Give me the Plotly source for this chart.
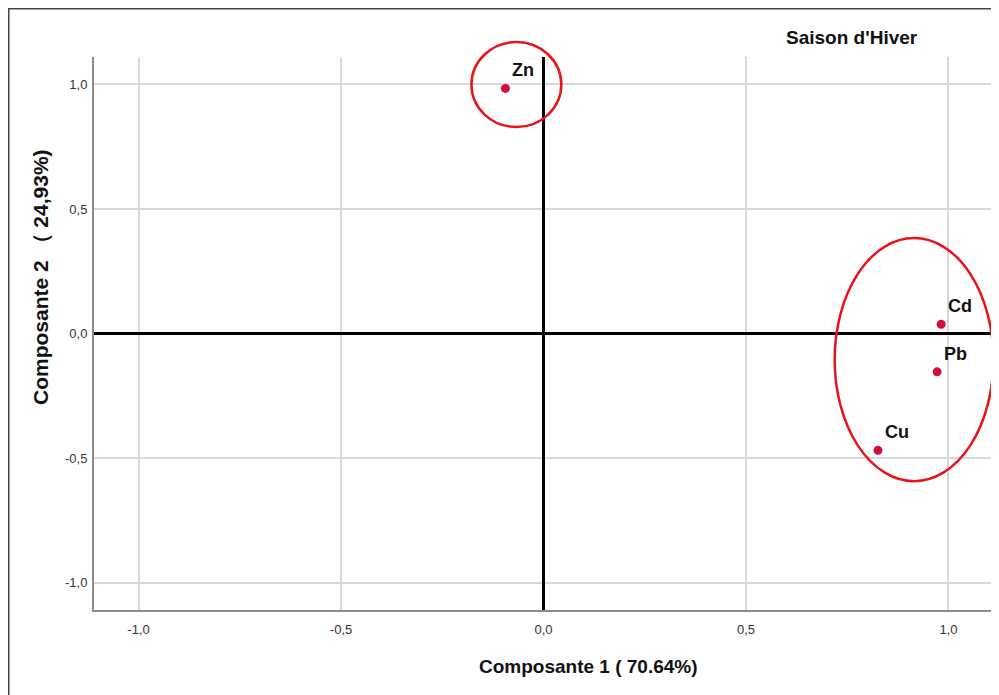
import plotly.graph_objects as go

# Data
labels = ["Zn", "Cd", "Pb", "Cu"]
comp1 = [-0.094, 0.982, 0.972, 0.826]
comp2 = [0.984, 0.037, -0.154, -0.469]
tick_vals = [-1.0, -0.5, 0.0, 0.5, 1.0]
tick_text = ["-1,0", "-0,5", "0,0", "0,5", "1,0"]
# Highlight ellipses (data units): x0, x1, y0, y1
ellipse_zn = [-0.178, 0.044, 0.829, 1.170]
ellipse_grp = [0.719, 1.111, -0.593, 0.383]

XR = [-1.11, 1.11]
YR = [-1.11, 1.11]

OFF = 8  # page body margin
W, H = 991, 687
ML, MR, MT, MB = 86, 6, 49, 85
PW = W - ML - MR
PH = H - MT - MB


def px_x(p):
    return (p - OFF - ML) / PW


def px_y(p):
    return (H - MB - (p - OFF)) / PH


def dom_x(v):
    return (v - XR[0]) / (XR[1] - XR[0])


def dom_y(v):
    return (v - YR[0]) / (YR[1] - YR[0])


FONT = "Liberation Sans, Arial"

fig = go.Figure()
fig.add_trace(go.Scatter(
    x=comp1, y=comp2, mode="markers",
    marker=dict(color="#D0103A", size=9),
    cliponaxis=False, showlegend=False, hoverinfo="skip",
))

annotations = []
for lab, xv, yv in zip(labels, comp1, comp2):
    annotations.append(dict(
        x=xv, y=yv, text=lab, showarrow=False, xanchor="left", yanchor="middle",
        xshift=5, yshift=18,
        font=dict(family=FONT, size=18, color="#111111", weight="bold"),
    ))

annotations.append(dict(
    x=px_x(852), y=px_y(37), xref="paper", yref="paper", text="Saison d'Hiver",
    showarrow=False, xanchor="center", yanchor="middle",
    font=dict(family=FONT, size=19, color="#111111", weight="bold"),
))
annotations.append(dict(
    x=px_x(588), y=px_y(666), xref="paper", yref="paper", text="Composante 1 ( 70.64%)",
    showarrow=False, xanchor="center", yanchor="middle",
    font=dict(family=FONT, size=19, color="#111111", weight="bold"),
))
annotations.append(dict(
    x=px_x(40), y=px_y(277), xref="paper", yref="paper", text="Composante 2 （ 24,93%)",
    showarrow=False, xanchor="center", yanchor="middle", textangle=-90,
    font=dict(family=FONT, size=21, color="#111111", weight="bold"),
))

shapes = []
for e in (ellipse_zn, ellipse_grp):
    shapes.append(dict(
        type="circle", xref="x domain", yref="y domain",
        x0=dom_x(e[0]), x1=dom_x(e[1]), y0=dom_y(e[2]), y1=dom_y(e[3]),
        line=dict(color="#E8141C", width=2.5), layer="above",
    ))
# outer frame
shapes.append(dict(
    type="rect", xref="paper", yref="paper",
    x0=px_x(8.75), x1=px_x(1020), y0=px_y(720), y1=px_y(8.75),
    line=dict(color="#444444", width=1.5), layer="above",
))

axis_common = dict(
    tickvals=tick_vals, ticktext=tick_text,
    showgrid=True, gridcolor="#D9D9D9", gridwidth=1.5,
    zeroline=True, zerolinecolor="#000000", zerolinewidth=3,
    showline=True, linecolor="#8C8C8C", linewidth=2,
    ticks="", tickfont=dict(family=FONT, size=13, color="#333333"),
    fixedrange=True,
)

fig.update_layout(
    width=W, height=H,
    margin=dict(l=ML, r=MR, t=MT, b=MB),
    paper_bgcolor="white", plot_bgcolor="white",
    xaxis=dict(range=XR, ticklabelstandoff=6, **axis_common),
    yaxis=dict(range=YR, ticklabelstandoff=2, **axis_common),
    annotations=annotations, shapes=shapes,
    showlegend=False,
)

fig.write_html("out.html")
